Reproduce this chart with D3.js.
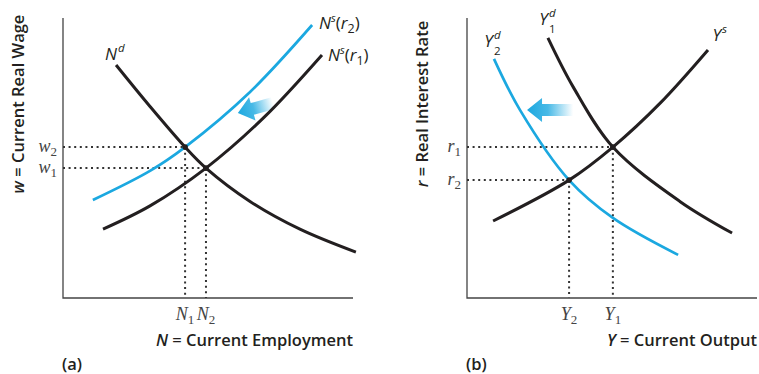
<!DOCTYPE html>
<html>
<head>
<meta charset="utf-8">
<script src="https://cdn.jsdelivr.net/npm/d3@7"></script>
<style>
  body { margin: 0; background: #fff; }
  svg { display: block; }
</style>
</head>
<body>
<div id="chart"></div>
<script>
// ---- data (both panels use a 0..100 domain on each axis) ----
// panel (a): labour market
const ndCurve   = [[18.3, 83.2], [30, 68.4], [42.1, 53.9], [49.3, 46.4], [64.5, 34.5], [81.7, 24.6], [101, 16.4]];
const nsR1Curve = [[13.8, 24.6], [30, 32.9], [49.3, 46.4], [69.3, 64.5], [89.3, 86.8]];
const nsR2Curve = [[10.3, 35], [30, 45.4], [42.1, 53.9], [64.5, 73.6], [85.9, 97.5]];
const laborEquilibria = [
  { x: 42.1, y: 53.9, xLabel: "N", xSub: "1", yLabel: "w", ySub: "2" },
  { x: 49.3, y: 46.4, xLabel: "N", xSub: "2", yLabel: "w", ySub: "1" }
];
const laborShift = { tail: [72.4, 69.6], tip: [60.3, 66.1] };

// panel (b): goods market
const yd1Curve = [[27.9, 92.9], [36.6, 75.4], [50.3, 53.9], [73.4, 34.5], [91.4, 23.2]];
const yd2Curve = [[9.3, 85.4], [18.3, 67.1], [35.2, 42.1], [50.3, 28.6], [72.8, 15.4]];
const ysCurve  = [[9, 27.5], [35.2, 42.1], [50.3, 53.9], [66.6, 69.6], [83.1, 88.6]];
const goodsEquilibria = [
  { x: 50.3, y: 53.9, xLabel: "Y", xSub: "1", yLabel: "r", ySub: "1" },
  { x: 35.2, y: 42.1, xLabel: "Y", xSub: "2", yLabel: "r", ySub: "2" }
];
const goodsShift = { tail: [36.6, 67.1], tip: [20.7, 67.1] };

const W = 759, H = 374;
const black = "#231f20", blue = "#1ba8e0";
const sans = "'Open Sans', sans-serif";
const serif = "'Liberation Serif', serif";

const svg = d3.select("#chart").append("svg")
  .attr("width", W).attr("height", H);

const defs = svg.append("defs");
const grad = defs.append("linearGradient").attr("id", "shiftGrad")
  .attr("x1", 0).attr("x2", 1).attr("y1", 0).attr("y2", 0);
grad.append("stop").attr("offset", "0%").attr("stop-color", blue).attr("stop-opacity", 1);
grad.append("stop").attr("offset", "45%").attr("stop-color", blue).attr("stop-opacity", 0.8);
grad.append("stop").attr("offset", "100%").attr("stop-color", blue).attr("stop-opacity", 0);

function sansText(g, size, weight, style) {
  return g.append("text")
    .attr("font-family", sans).attr("font-size", size)
    .attr("font-weight", weight || 400).attr("font-style", style || "normal")
    .attr("fill", black);
}

function drawPanel(cfg) {
  const x = d3.scaleLinear().domain([0, 100]).range([cfg.left, cfg.left + 290]);
  const y = d3.scaleLinear().domain([0, 100]).range([298, 18]);
  const g = svg.append("g");

  const line = d3.line()
    .x(d => x(d[0])).y(d => y(d[1]))
    .curve(d3.curveCatmullRom.alpha(0.5));

  // axes (plain L-shaped frame, no ticks)
  g.append("path")
    .attr("d", `M${x(0)},${y(100)}V${y(0)}H${x(100)}`)
    .attr("fill", "none").attr("stroke", "#444").attr("stroke-width", 1.3);

  // dotted guide lines
  cfg.equilibria.forEach(e => {
    g.append("path")
      .attr("d", `M${x(0)},${y(e.y)}H${x(e.x)}M${x(e.x)},${y(e.y)}V${y(0)}`)
      .attr("fill", "none").attr("stroke", "#333")
      .attr("stroke-width", 2).attr("stroke-dasharray", "2,3.6");
  });

  // shift arrow
  const tip = [x(cfg.shift.tip[0]), y(cfg.shift.tip[1])];
  const tail = [x(cfg.shift.tail[0]), y(cfg.shift.tail[1])];
  const len = Math.hypot(tail[0] - tip[0], tail[1] - tip[1]);
  const ang = Math.atan2(tail[1] - tip[1], tail[0] - tip[0]) * 180 / Math.PI;
  g.append("path")
    .attr("d", `M0,0L15,-12L15,-6L${len},-6L${len},6L15,6L15,12Z`)
    .attr("transform", `translate(${tip[0]},${tip[1]}) rotate(${ang})`)
    .attr("fill", "url(#shiftGrad)");

  // curves
  cfg.curves.forEach(c => {
    g.append("path")
      .attr("d", line(c.data))
      .attr("fill", "none")
      .attr("stroke", c.color)
      .attr("stroke-width", c.color === blue ? 2.7 : 3);

    const anchor = c.labelAt === "start" ? c.data[0] : c.data[c.data.length - 1];
    c.label(g, x(anchor[0]) + c.dx, y(anchor[1]) + c.dy);
  });

  // intersection dots
  g.selectAll(".eq").data(cfg.equilibria).join("circle")
    .attr("cx", d => x(d.x)).attr("cy", d => y(d.y))
    .attr("r", 2.8).attr("fill", black);

  // tick labels
  cfg.equilibria.forEach(e => {
    const ty = g.append("text")
      .attr("font-family", serif).attr("font-style", "italic").attr("font-size", 18).attr("fill", "#444")
      .attr("x", x(0) - 6).attr("y", y(e.y) + 5).attr("text-anchor", "end");
    ty.append("tspan").text(e.yLabel);
    ty.append("tspan").attr("font-style", "normal").attr("font-size", 13).attr("dy", 4).text(e.ySub);

    const tx = g.append("text")
      .attr("font-family", serif).attr("font-style", "italic").attr("font-size", 18).attr("fill", "#444")
      .attr("x", x(e.x)).attr("y", 320).attr("text-anchor", "middle");
    tx.append("tspan").text(e.xLabel);
    tx.append("tspan").attr("font-style", "normal").attr("font-size", 13).attr("dy", 4).text(e.xSub);
  });

  // axis titles
  const xt = sansText(g, 16.5, 600)
    .attr("x", x(100)).attr("y", 346).attr("text-anchor", "end");
  xt.append("tspan").attr("font-style", "italic").text(cfg.xVar);
  xt.append("tspan").text(" = " + cfg.xTitle);

  const yt = sansText(g, 16.5, 600)
    .attr("transform", `translate(${cfg.left - 39},104) rotate(-90)`)
    .attr("text-anchor", "middle");
  yt.append("tspan").attr("font-style", "italic").text(cfg.yVar);
  yt.append("tspan").text(" = " + cfg.yTitle);

  sansText(g, 16.5, 600)
    .attr("x", cfg.left - 1).attr("y", 370).text(cfg.tag);
}

// curve label with superscript and optional stacked subscript (separate texts)
function supLabel(base, sup, sub) {
  return (g, px, py) => {
    const main = sansText(g, 17, 400, "italic").attr("x", px).attr("y", py).attr("text-anchor", "end").text(base);
    sansText(g, 11.5, 400, "italic").attr("x", px + 1).attr("y", py - 8).text(sup);
    if (sub) sansText(g, 11.5, 400).attr("x", px + 1).attr("y", py + 8).text(sub);
    return main;
  };
}
function nsLabel(sub) {
  return (g, px, py) => {
    const t = sansText(g, 17, 400, "italic").attr("x", px).attr("y", py);
    t.append("tspan").text("N");
    t.append("tspan").attr("font-size", 11).attr("dy", -7).text("s");
    t.append("tspan").attr("font-style", "normal").attr("dy", 7).text("(");
    t.append("tspan").text("r");
    t.append("tspan").attr("font-style", "normal").attr("font-size", 12.5).attr("dy", 4).text(sub);
    t.append("tspan").attr("font-style", "normal").attr("dy", -4).text(")");
    return t;
  };
}

drawPanel({
  left: 63, tag: "(a)",
  xVar: "N", xTitle: "Current Employment",
  yVar: "w", yTitle: "Current Real Wage",
  equilibria: laborEquilibria, shift: laborShift,
  curves: [
    { data: nsR2Curve, color: blue, labelAt: "end", dx: 7, dy: 4, label: nsLabel("2") },
    { data: nsR1Curve, color: black, labelAt: "end", dx: 6, dy: 6, label: nsLabel("1") },
    { data: ndCurve, color: black, labelAt: "start", dx: 1, dy: -5, label: supLabel("N", "d") }
  ]
});

drawPanel({
  left: 467, tag: "(b)",
  xVar: "Y", xTitle: "Current Output",
  yVar: "r", yTitle: "Real Interest Rate",
  equilibria: goodsEquilibria, shift: goodsShift,
  curves: [
    { data: yd2Curve, color: blue, labelAt: "start", dx: -1, dy: -12, label: supLabel("Y", "d", "2") },
    { data: yd1Curve, color: black, labelAt: "start", dx: 0, dy: -13, label: supLabel("Y", "d", "1") },
    { data: ysCurve, color: black, labelAt: "end", dx: 13, dy: -9, label: supLabel("Y", "s") }
  ]
});
</script>
</body>
</html>
